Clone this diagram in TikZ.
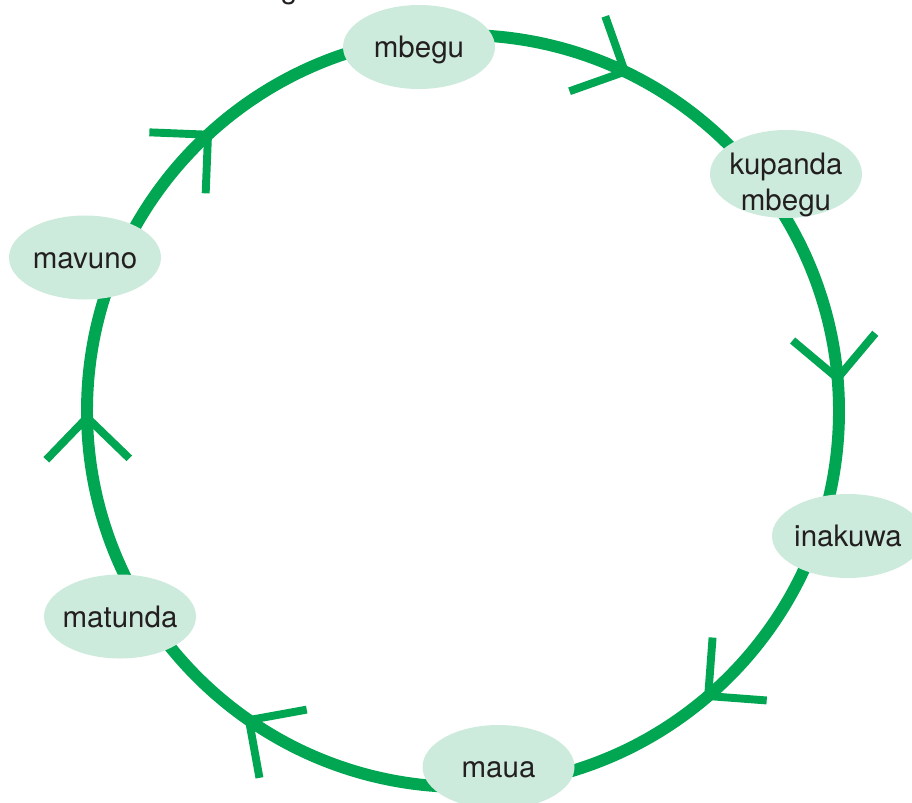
\documentclass[tikz,border=0pt]{standalone}
\usepackage{fontspec}
\setmainfont{TeX Gyre Heros}
\usetikzlibrary{shapes.geometric}
\definecolor{cyclegreen}{HTML}{00A651}
\definecolor{stagefill}{HTML}{CDEBDC}
\definecolor{stagetext}{HTML}{231F20}
\tikzset{
  ring/.style={draw=cyclegreen, line width=6.8pt},
  chevron/.style={draw=cyclegreen, line width=4.5pt, line join=miter},
  stagebase/.style={ellipse, fill=stagefill, inner sep=-0.15cm, minimum width=3.04cm, minimum height=1.68cm,
    text=stagetext, font=\fontsize{16.8}{20}\selectfont, align=center},
  stage/.style={stagebase, text height=15.5pt, text depth=3.5pt},
}
\newcommand{\cyclechevron}[1]{%
  \begin{scope}[shift={(C)}, rotate=#1]
    \draw[chevron] (7.52+0.83,0.83) -- (7.52,0) -- (7.52-0.83,0.83);
  \end{scope}}
\begin{document}
\begin{tikzpicture}
\useasboundingbox (0,0) rectangle (18.24,-16.04);
\coordinate (C) at (9.26,-8.22);
\draw[ring] (C) circle (7.52);
\cyclechevron{64.5}
\cyclechevron{5}
\cyclechevron{-49.3}
\cyclechevron{-124.7}
\cyclechevron{-179}
\cyclechevron{132.7}
\node[stage] (mbegu) at (8.38,-0.94) {mbegu};
\node[stagebase, inner ysep=-0.45cm, minimum height=1.76cm] (kupanda) at (15.72,-3.48) {\begin{tabular}{@{}c@{}}\rule{0pt}{27pt}kupanda\\mbegu\end{tabular}};
\node[stage] (inakuwa) at (16.96,-10.72) {inakuwa};
\node[stage] (maua) at (9.97,-15.34) {maua};
\node[stage] (matunda) at (2.40,-12.33) {matunda};
\node[stage] (mavuno) at (1.70,-5.15) {mavuno};
\node[anchor=base, inner sep=0pt, text=stagetext, font=\fontsize{16.8}{20}\selectfont] (cut) at (5.78,0.03) {g};
\end{tikzpicture}
\end{document}
